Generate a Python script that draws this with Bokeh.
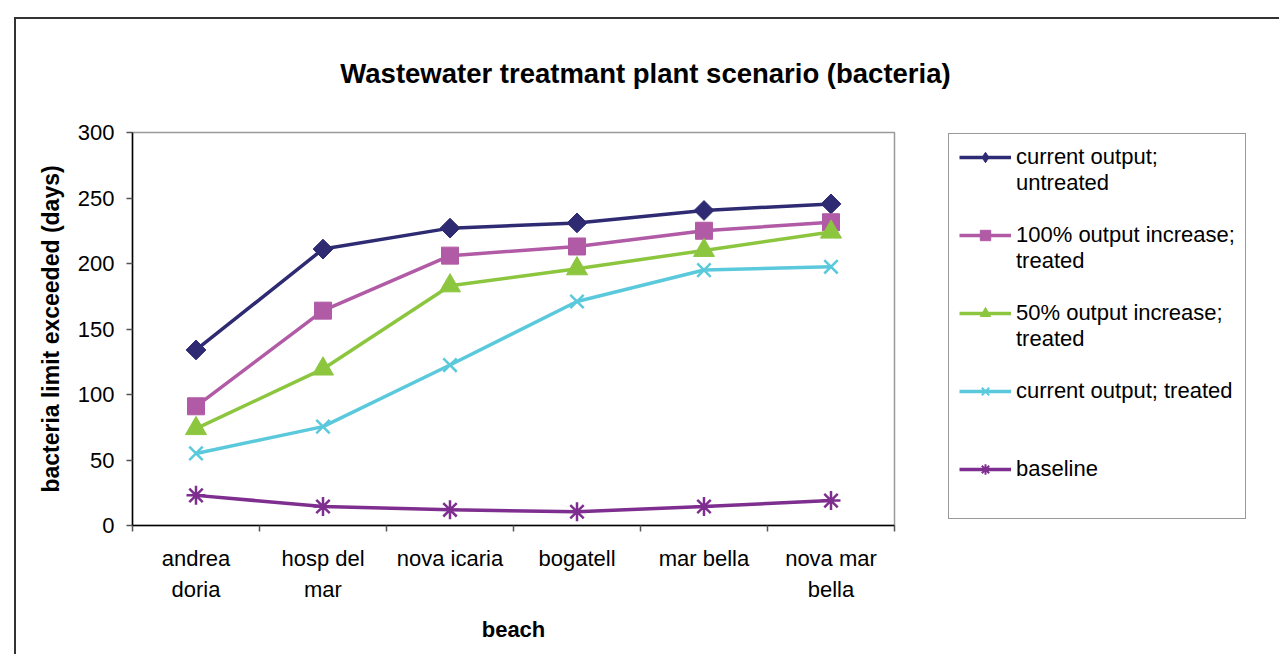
import numpy as np
from bokeh.plotting import figure
from bokeh.layouts import row, column
from bokeh.models import Range1d, FixedTicker, Legend, LegendItem, Label
from bokeh.embed import file_html
from bokeh.resources import INLINE

# ---- data ----
beaches = ["andrea\ndoria", "hosp del\nmar", "nova icaria", "bogatell", "mar bella", "nova mar\nbella"]
current_untreated = [134, 211, 227, 231, 240.5, 245.5]
increase100_treated = [91, 164, 206, 213, 225, 231.5]
increase50_treated = [74, 119.5, 183, 196, 210, 224]
current_treated = [55, 75.5, 122.5, 171, 195, 197.5]
baseline = [23, 14.5, 12, 10.5, 14.5, 19]
y_ticks = [0, 50, 100, 150, 200, 250, 300]
title_text = "Wastewater treatmant plant scenario (bacteria)"

series_names = [
    ("current output;", "untreated"),
    ("100% output increase;", "treated"),
    ("50% output increase;", "treated"),
    ("current output; treated", None),
    ("baseline", None),
]
series_values = [current_untreated, increase100_treated, increase50_treated, current_treated, baseline]
colors = ["#2F2B73", "#B15AA5", "#8CC63F", "#5BC9DC", "#7E2E8E"]

FONT = "Liberation Sans"

TOTAL_W = 1263
HEAD_H = 100
H = 535
WA = 898
WB = TOTAL_W - WA
ML, MT, FW, FH = 116, 13, 762, 393
MB = H - MT - FH

# ---------------- title strip ----------------
head = figure(width=TOTAL_W, height=HEAD_H, output_backend="svg", toolbar_location=None,
              x_range=Range1d(0, 1), y_range=Range1d(0, 1),
              x_axis_location=None, y_axis_location=None, title=None, min_border=0)
head.grid.visible = False
head.outline_line_color = None
head.background_fill_color = "white"
head.border_fill_color = "white"
head.add_layout(Label(x=629, y=54, x_units="canvas", y_units="canvas", text=title_text,
                      text_align="center", text_baseline="middle",
                      text_font=FONT, text_font_size="27.5px", text_font_style="bold",
                      text_color="black"))

# ---------------- chart ----------------
chart = figure(width=WA, height=H, output_backend="svg", toolbar_location=None,
               x_range=Range1d(-0.5, len(beaches) - 0.5), y_range=Range1d(0, 300),
               title=None,
               min_border_left=ML, min_border_top=MT,
               min_border_right=WA - ML - FW, min_border_bottom=MB)
chart.background_fill_color = "white"
chart.border_fill_color = "white"
chart.grid.visible = False
chart.outline_line_color = "#9a9a9a"
chart.outline_line_width = 1.5

xs = np.arange(len(beaches))

ya = chart.yaxis[0]
ya.ticker = FixedTicker(ticks=y_ticks)
ya.major_tick_out = 6
ya.major_tick_in = 0
ya.minor_tick_out = 0
ya.minor_tick_in = 0
ya.axis_line_color = "black"
ya.axis_line_width = 1.5
ya.major_tick_line_color = "#555"
ya.major_tick_line_width = 1.5
ya.major_label_text_font = FONT
ya.major_label_text_font_size = "22px"
ya.major_label_text_color = "black"
ya.major_label_standoff = 12
ya.axis_label = "bacteria limit exceeded (days)"
ya.axis_label_text_font = FONT
ya.axis_label_text_font_size = "23px"
ya.axis_label_text_font_style = "bold"
ya.axis_label_text_color = "black"
ya.axis_label_standoff = 11

xa = chart.xaxis[0]
xa.ticker = FixedTicker(ticks=list(xs), minor_ticks=list(np.arange(len(beaches) + 1) - 0.5))
xa.major_label_overrides = {int(i): b for i, b in zip(xs, beaches)}
xa.major_tick_out = 0
xa.major_tick_in = 0
xa.minor_tick_out = 6
xa.minor_tick_in = 0
xa.minor_tick_line_color = "#555"
xa.minor_tick_line_width = 1.5
xa.axis_line_color = "black"
xa.axis_line_width = 1.5
xa.major_label_text_font = FONT
xa.major_label_text_font_size = "22px"
xa.major_label_text_color = "black"
xa.major_label_text_line_height = 1.27
xa.major_label_standoff = 14
xa.axis_label = "beach"
xa.axis_label_text_font = FONT
xa.axis_label_text_font_size = "22px"
xa.axis_label_text_font_style = "bold"
xa.axis_label_text_color = "black"
xa.axis_label_standoff = 12

markers = [
    dict(marker="square", legend_marker="diamond", size=14, angle=np.pi / 4, fill=True, lw=1),
    dict(marker="square", legend_marker="square", size=17, angle=0, fill=True, lw=1),
    dict(marker="triangle", legend_marker="triangle", size=21, angle=0, fill=True, lw=1),
    dict(marker="x", legend_marker="x", size=19, angle=0, fill=False, lw=2.5),
    dict(marker="asterisk", legend_marker="asterisk", size=19, angle=0, fill=False, lw=2.5),
]

# ---------------- legend panel (ranges chosen so its proxy glyphs stay off-screen) ----------------
side = figure(width=WB, height=H, output_backend="svg", toolbar_location=None,
              x_range=Range1d(1000, 1001), y_range=Range1d(1000, 1001),
              x_axis_location=None, y_axis_location=None, title=None,
              min_border_left=0, min_border_right=0, min_border_top=MT, min_border_bottom=MB)
side.grid.visible = False
side.outline_line_color = None
side.background_fill_color = "white"
side.border_fill_color = "white"

items = []
blank = side.line(xs, baseline, line_alpha=0)
for (n1, n2), vals, col, m in zip(series_names, series_values, colors, markers):
    chart.line(xs, vals, line_color=col, line_width=3.5)
    chart.scatter(xs, vals, marker=m["marker"], size=m["size"], angle=m["angle"],
                  fill_color=col if m["fill"] else None, line_color=col, line_width=m["lw"])
    lr = side.line(xs, vals, line_color=col, line_width=3.5)
    sr = side.scatter(xs, vals, marker=m["legend_marker"], size=m["size"],
                      fill_color=col if m["fill"] else None, line_color=col,
                      line_width=1 if m["fill"] else 2)
    items.append(LegendItem(label=n1, renderers=[lr, sr]))
    if n2:
        items.append(LegendItem(label=n2, renderers=[blank]))
    items.append(LegendItem(label=" ", renderers=[blank]))
# rows: L1,u,_,L2,t,_,L3,t,_,L4,_,[_],L5,_
items.insert(11, LegendItem(label=" ", renderers=[blank]))

PAD = 10
LEG_H = 2 * PAD + 26 * len(items)
legend = Legend(items=items, location=(34, FH - LEG_H - 3))
legend.label_text_font = FONT
legend.label_text_font_size = "22px"
legend.label_text_color = "black"
legend.glyph_width = 52
legend.glyph_height = 26
legend.label_height = 26
legend.spacing = 0
legend.padding = PAD
legend.margin = 0
legend.label_standoff = 5
legend.border_line_color = "#333333"
legend.border_line_width = 1.5
legend.background_fill_color = "white"
legend.background_fill_alpha = 1
side.add_layout(legend, "center")

p = column(head, row(chart, side, spacing=0), spacing=0,
           styles={"margin-left": "14px", "margin-top": "17px",
                   "border-left": "2px solid #333333", "border-top": "2px solid #333333"})

open("out.html", "w").write(file_html(p, INLINE))
